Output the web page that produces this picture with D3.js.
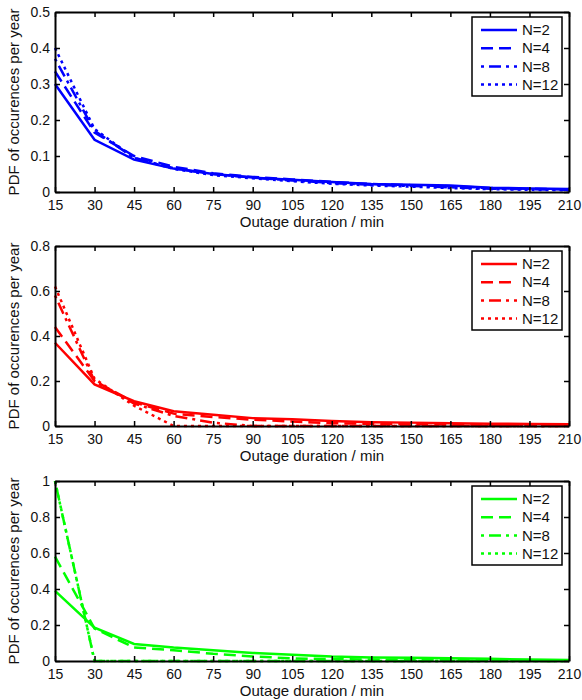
<!DOCTYPE html>
<html>
<head>
<meta charset="utf-8">
<script src="https://cdn.jsdelivr.net/npm/d3@7"></script>
<style>
  body { margin: 0; background: #fff; }
  text { font-family: "Liberation Sans", Arial, Helvetica, sans-serif; }
</style>
</head>
<body>
<svg id="chart" width="582" height="700"></svg>
<script>
// outage durations (min)
const durations = [15, 30, 45, 60, 75, 90, 105, 120, 135, 150, 165, 180, 195, 210]
const seriesNames = ['N=2', 'N=4', 'N=8', 'N=12']

// panel 1 (blue)
const blueN2 = [0.30, 0.145, 0.09, 0.065, 0.05, 0.04, 0.034, 0.028, 0.022, 0.02, 0.018, 0.012, 0.01, 0.008]
const blueN4 = [0.335, 0.165, 0.1, 0.07, 0.052, 0.042, 0.035, 0.028, 0.022, 0.019, 0.016, 0.011, 0.009, 0.007]
const blueN8 = [0.37, 0.17, 0.095, 0.066, 0.05, 0.04, 0.032, 0.025, 0.02, 0.017, 0.013, 0.009, 0.008, 0.006]
const blueN12 = [0.40, 0.175, 0.095, 0.064, 0.047, 0.038, 0.03, 0.023, 0.018, 0.015, 0.011, 0.008, 0.006, 0.005]

// panel 2 (red)
const redN2 = [0.37, 0.185, 0.11, 0.066, 0.05, 0.035, 0.03, 0.022, 0.017, 0.015, 0.012, 0.01, 0.009, 0.008]
const redN4 = [0.44, 0.2, 0.105, 0.055, 0.04, 0.028, 0.02, 0.012, 0.01, 0.008, 0.006, 0.005, 0.004, 0.004]
const redN8 = [0.58, 0.2, 0.1, 0.045, 0.015, 0, 0, 0, 0, 0, 0, 0, 0, 0]
const redN12 = [0.62, 0.21, 0.09, 0, 0, 0, 0, 0, 0, 0, 0, 0, 0, 0]

// panel 3 (green)
const greenN2 = [0.39, 0.185, 0.095, 0.075, 0.06, 0.045, 0.035, 0.025, 0.02, 0.018, 0.015, 0.012, 0.008, 0.005]
const greenN4 = [0.58, 0.18, 0.075, 0.06, 0.04, 0.025, 0.015, 0.01, 0.008, 0.006, 0.005, 0.004, 0.003, 0.003]
const greenN8 = [1.0, 0, 0, 0, 0, 0, 0, 0, 0, 0, 0, 0, 0, 0]
const greenN12 = [1.0, 0, 0, 0, 0, 0, 0, 0, 0, 0, 0, 0, 0, 0]

const yTicks1 = [0, 0.1, 0.2, 0.3, 0.4, 0.5]
const yTicks2 = [0, 0.2, 0.4, 0.6, 0.8]
const yTicks3 = [0, 0.2, 0.4, 0.6, 0.8, 1]

const panels = [
  { top: 12, color: '#0000ff', yMax: 0.5, ticks: yTicks1, series: [blueN2, blueN4, blueN8, blueN12] },
  { top: 246, color: '#ff0000', yMax: 0.8, ticks: yTicks2, series: [redN2, redN4, redN8, redN12] },
  { top: 481, color: '#00ff00', yMax: 1, ticks: yTicks3, series: [greenN2, greenN4, greenN8, greenN12] },
]

const dashes = [null, '12,6', '3,5,12,5', '3,4']

const margin = { left: 55 }
const chartSize = { width: 514, height: 180 }

const svg = d3.select('#chart')

const x = d3.scaleLinear().domain([15, 210]).range([0, chartSize.width])

panels.forEach((p) => {
  const g = svg.append('g').attr('transform', `translate(${margin.left}, ${p.top})`)
  const y = d3.scaleLinear().domain([0, p.yMax]).range([chartSize.height, 0])

  const line = d3
    .line()
    .x((d, i) => x(durations[i]))
    .y((d) => y(d))

  p.series.forEach((s, i) => {
    g.append('path')
      .datum(s)
      .attr('fill', 'none')
      .attr('stroke', p.color)
      .attr('stroke-width', 2.5)
      .attr('stroke-dasharray', dashes[i])
      .attr('d', line)
  })

  // axes, ticks pointing inward like matlab
  const bottom = g
    .append('g')
    .attr('transform', `translate(0, ${chartSize.height})`)
    .call(d3.axisBottom(x).tickValues(durations).tickSize(-5).tickSizeOuter(0).tickPadding(8))
  const left = g
    .append('g')
    .call(
      d3.axisLeft(y).tickValues(p.ticks).tickSize(-5).tickSizeOuter(0).tickPadding(5)
        .tickFormat((d) => d3.format('~g')(d)),
    )
  const top = g.append('g').call(d3.axisTop(x).tickValues(durations).tickSize(-5).tickSizeOuter(0).tickFormat(''))
  const right = g
    .append('g')
    .attr('transform', `translate(${chartSize.width}, 0)`)
    .call(d3.axisRight(y).tickValues(p.ticks).tickSize(-5).tickSizeOuter(0).tickFormat(''))

  ;[bottom, left, top, right].forEach((a) => {
    a.select('.domain').attr('stroke', '#000').attr('stroke-width', 2)
    a.selectAll('.tick line').attr('stroke', '#000').attr('stroke-width', 1.5)
    a.selectAll('.tick text').attr('fill', '#111').style('font-size', '14px').style('font-family', '"Liberation Sans", Arial, sans-serif')
  })

  g.append('text')
    .attr('text-anchor', 'middle')
    .attr('x', chartSize.width / 2)
    .attr('y', chartSize.height + 35)
    .style('font-size', '15px')
    .attr('fill', '#111')
    .text('Outage duration / min')

  g.append('text')
    .attr('text-anchor', 'middle')
    .attr('transform', `translate(-36, ${chartSize.height / 2}) rotate(-90)`)
    .style('font-size', '15px')
    .attr('fill', '#111')
    .text('PDF of occurences per year')

  // legend
  const lg = g.append('g').attr('transform', `translate(${chartSize.width - 7 - 90}, 5)`)
  lg.append('rect')
    .attr('width', 90)
    .attr('height', 79)
    .attr('fill', '#fff')
    .attr('stroke', '#000')
    .attr('stroke-width', 1.5)
  seriesNames.forEach((name, i) => {
    const ly = 13 + i * 18.2
    lg.append('line')
      .attr('x1', 9)
      .attr('x2', 45)
      .attr('y1', ly)
      .attr('y2', ly)
      .attr('stroke', p.color)
      .attr('stroke-width', 2.5)
      .attr('stroke-dasharray', dashes[i])
    lg.append('text')
      .attr('x', 50)
      .attr('y', ly)
      .attr('dy', '0.35em')
      .style('font-size', '15px')
      .attr('fill', '#111')
      .text(name)
  })
})
</script>
</body>
</html>
